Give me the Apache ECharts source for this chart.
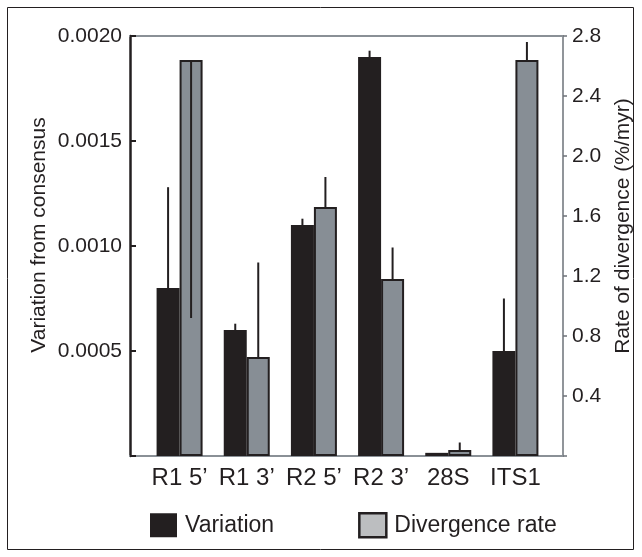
<!DOCTYPE html>
<html>
<head>
<meta charset="utf-8">
<script src="https://cdn.jsdelivr.net/npm/echarts@6/dist/echarts.min.js"></script>
<style>
  html, body { margin: 0; padding: 0; background: #fff; }
  #main { width: 642px; height: 557px; }
</style>
</head>
<body>
<div id="main"></div>
<script>
// categories and values
var categories = ['R1 5\u2019', 'R1 3\u2019', 'R2 5\u2019', 'R2 3\u2019', '28S', 'ITS1'];
var variation = [0.0008, 0.0006, 0.0011, 0.0019, 0.000015, 0.0005];
var variationErr = [0.00128, 0.00063, 0.00113, 0.00193, 0.000015, 0.00075];   // error bar end
var divergence = [2.64, 0.66, 1.66, 1.18, 0.04, 2.64];
var divergenceErr = [0.92, 1.29, 1.86, 1.39, 0.09, 2.76];                     // error bar end
var leftTicks = [0, 0.0005, 0.0010, 0.0015, 0.0020];
var rightTicks = [0, 0.4, 0.8, 1.2, 1.6, 2.0, 2.4, 2.8];

var ink = '#231f20';
var font = 'Liberation Sans, Arial, Helvetica, sans-serif';
var barW = 23;

var myChart = echarts.init(document.getElementById('main'));

// error bars: vertical line from value to the end value, at the bar centre
var errorSeries = function (name, vals, ends, yIdx, dx) {
    var data = [];
    vals.forEach(function (v, i) {
        data.push([i, v, ends[i]]);
    });
    return {
        name: name + ' err',
        type: 'custom',
        xAxisIndex: 0,
        yAxisIndex: yIdx,
        z: 5,
        silent: true,
        encode: { x: 0, y: [1, 2] },
        data: data,
        renderItem: function (params, api) {
            var a = api.coord([api.value(0), api.value(1)]);
            var b = api.coord([api.value(0), api.value(2)]);
            return {
                type: 'line',
                shape: { x1: a[0] + dx, y1: a[1], x2: b[0] + dx, y2: b[1] },
                style: { stroke: ink, lineWidth: 2 }
            };
        }
    };
};

var option = {
    backgroundColor: '#fff',
    animation: false,
    textStyle: { fontFamily: font, color: ink },
    graphic: [{
        type: 'rect',
        shape: { x: 7.5, y: 7.5, width: 626, height: 542 },
        style: { fill: 'none', stroke: ink, lineWidth: 1 }
    }],
    legend: {
        left: 145,
        top: 507,
        itemWidth: 27,
        itemHeight: 24,
        itemGap: 84,
        textStyle: { fontSize: 23, color: ink, fontFamily: font, padding: [0, 0, 0, 3] },
        data: [
            { name: 'Variation', icon: 'rect', itemStyle: { color: ink, borderWidth: 0 } },
            { name: 'Divergence rate', icon: 'rect', itemStyle: { color: '#bcbec0', borderColor: ink, borderWidth: 2.5 } }
        ]
    },
    grid: [
        { left: 146, right: 93, top: 36, bottom: 101 },
        { left: 130, right: 79, top: 36, bottom: 101 }
    ],
    xAxis: [
        {
            type: 'category',
            gridIndex: 0,
            data: categories,
            axisLine: { show: false },
            axisTick: { show: false },
            axisLabel: { fontSize: 24, color: ink, fontFamily: font, margin: 10, interval: 0 }
        },
        {
            type: 'value', gridIndex: 1, position: 'bottom', min: 0, max: 1,
            axisLine: { onZero: false, lineStyle: { color: '#8a9096', width: 2 } },
            axisTick: { show: false }, axisLabel: { show: false }, splitLine: { show: false }
        },
        {
            type: 'value', gridIndex: 1, position: 'top', min: 0, max: 1,
            axisLine: { onZero: false, lineStyle: { color: '#8a9096', width: 2 } },
            axisTick: { show: false }, axisLabel: { show: false }, splitLine: { show: false }
        }
    ],
    yAxis: [
        {
            type: 'value',
            gridIndex: 0,
            position: 'left',
            offset: 16,
            min: leftTicks[0],
            max: leftTicks[leftTicks.length - 1],
            interval: 0.0005,
            name: 'Variation from consensus',
            nameLocation: 'middle',
            nameRotate: 90,
            nameGap: 80,
            nameMoveOverlap: false,
            nameTextStyle: { fontSize: 21, color: ink, fontFamily: font, padding: [0, 0, 0, 22] },
            axisLine: { show: true, lineStyle: { color: ink, width: 2.5 } },
            axisTick: { show: true, inside: true, length: 6, lineStyle: { color: ink, width: 2 } },
            axisLabel: {
                fontSize: 21, color: ink, fontFamily: font, margin: 8,
                formatter: function (v) { return v === 0 ? '' : v.toFixed(4); }
            },
            splitLine: { show: false }
        },
        {
            type: 'value',
            gridIndex: 0,
            position: 'right',
            offset: 14,
            min: rightTicks[0],
            max: rightTicks[rightTicks.length - 1],
            interval: 0.4,
            name: 'Rate of divergence (%/myr)',
            nameLocation: 'middle',
            nameRotate: 90,
            nameGap: 50,
            nameTextStyle: { fontSize: 21, color: ink, fontFamily: font, padding: [0, 0, 0, 40] },
            axisLine: { show: true, lineStyle: { color: '#6d7278', width: 1.5 } },
            axisTick: { show: true, length: 4, lineStyle: { color: '#6d7278', width: 1.5 } },
            axisLabel: {
                fontSize: 21, color: ink, fontFamily: font, margin: 9,
                formatter: function (v) { return v === 0 ? '' : v.toFixed(1); }
            },
            splitLine: { show: false }
        },
        {
            type: 'value', gridIndex: 1, min: 0, max: 1, show: false
        }
    ],
    series: [
        {
            name: 'Variation',
            type: 'bar',
            xAxisIndex: 0,
            yAxisIndex: 0,
            barWidth: barW,
            barGap: '0%',
            itemStyle: { color: ink },
            data: variation
        },
        {
            name: 'Divergence rate',
            type: 'bar',
            xAxisIndex: 0,
            yAxisIndex: 1,
            barWidth: barW,
            barGap: '0%',
            itemStyle: { color: '#878e95', borderColor: ink, borderWidth: 2 },
            data: divergence
        },
        errorSeries('Variation', variation, variationErr, 0, -barW / 2),
        errorSeries('Divergence rate', divergence, divergenceErr, 1, barW / 2)
    ]
};

myChart.setOption(option);
</script>
</body>
</html>
